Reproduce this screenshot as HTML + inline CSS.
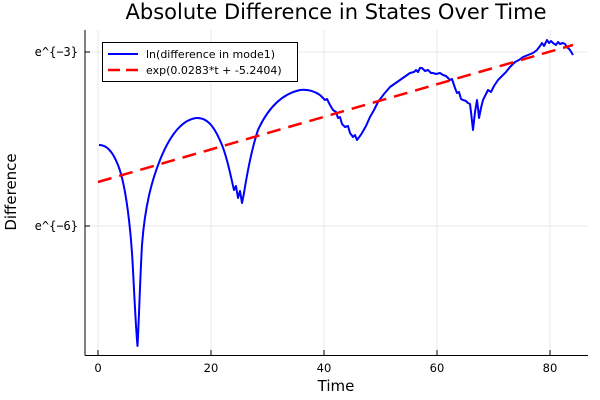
<!DOCTYPE html>
<html><head><meta charset="utf-8"><style>body{margin:0;background:#fff}svg{display:block}</style></head><body>
<svg width="600" height="400" xmlns="http://www.w3.org/2000/svg" font-family="'DejaVu Sans', 'Liberation Sans', sans-serif">
<g stroke="#e8e8e8" stroke-width="1">
<line x1="98" y1="30" x2="98" y2="355"/><line x1="211" y1="30" x2="211" y2="355"/><line x1="324" y1="30" x2="324" y2="355"/><line x1="437" y1="30" x2="437" y2="355"/><line x1="550" y1="30" x2="550" y2="355"/>
<line x1="85" y1="52" x2="588" y2="52"/><line x1="85" y1="226" x2="588" y2="226"/>
</g>
<g stroke="#000" stroke-width="1">
<line x1="85" y1="30" x2="85" y2="355.5"/><line x1="85" y1="355.5" x2="588" y2="355.5"/>
<line x1="85" y1="52" x2="90" y2="52"/><line x1="85" y1="226" x2="90" y2="226"/>
<line x1="98" y1="355" x2="98" y2="350"/><line x1="211" y1="355" x2="211" y2="350"/><line x1="324" y1="355" x2="324" y2="350"/><line x1="437" y1="355" x2="437" y2="350"/><line x1="550" y1="355" x2="550" y2="350"/>
</g>
<g font-size="11.5" fill="#000">
<text x="98" y="372" text-anchor="middle">0</text><text x="211" y="372" text-anchor="middle">20</text><text x="324" y="372" text-anchor="middle">40</text><text x="437" y="372" text-anchor="middle">60</text><text x="550" y="372" text-anchor="middle">80</text>
<text x="78" y="56" text-anchor="end" font-family="'DejaVu Sans Mono', monospace" font-size="12">e^{−3}</text>
<text x="78" y="230" text-anchor="end" font-family="'DejaVu Sans Mono', monospace" font-size="12">e^{−6}</text>
</g>
<text x="336" y="19" text-anchor="middle" font-size="21">Absolute Difference in States Over Time</text>
<text x="336" y="391" text-anchor="middle" font-size="15">Time</text>
<text transform="translate(16,192) rotate(-90)" text-anchor="middle" font-size="15">Difference</text>
<path fill="none" stroke="#0000ff" stroke-width="2" stroke-linejoin="round" d="M99,145 C106,145 112,150 118,165 C126,185 131,230 133,270 C135,310 136,330 137.5,346 C139,320 140,280 142,245 C145,205 152,180 160,160 C170,135 182,120 196,118 C208,117 215,128 222,145 C228,160 231,178 234,190 L236,186 L238,198 L240,191 L242,203 L244,193 C248,168 252,148 258,130 C268,108 282,94 300,90 C308,89 314,91 320,95"/>
<polyline fill="none" stroke="#0000ff" stroke-width="2" stroke-linejoin="round" points="320,95 322,97 325,100 327,99 330,105 333,110 336,112 338,118 340,117 342,124 345,127 348,126 350,133 353,137 355,135 357,140 360,136 362,133 366,126 370,117 374,110 378,102 384,94 390,87 400,80 410,73 414,72 416,70 418,72 420,68 422,68 425,71 428,70 431,73 433,73 436,74 440,73 443,75 446,76 450,80 452,79 455,88 457,93 459,92 461,99 463,100 466,101 468,103 470,104 471,112 473,130 475,112 477,100 478,108 479,118 481,108 483,100 485,96 488,90 491,92 494,86 498,80 502,76 506,72 510,67 515,62 519,60 523,57 528,55 533,53 537,50 540,46 542,43 544,46 547,40 549,43 551,41 553,43 556,45 558,42 560,44 563,43 565,44 567,47 570,50 573,55"/>
<line x1="98" y1="182" x2="573" y2="45" stroke="#ff0000" stroke-width="2.5" stroke-dasharray="14,8"/>
<rect x="102.5" y="42.5" width="195" height="39" fill="#fff" stroke="#000" stroke-width="1"/>
<line x1="108" y1="54" x2="138" y2="54" stroke="#0000ff" stroke-width="2"/>
<line x1="108" y1="70" x2="138" y2="70" stroke="#ff0000" stroke-width="2.5" stroke-dasharray="12,6"/>
<text x="146" y="58" font-size="11">ln(difference in mode1)</text>
<text x="146" y="74" font-size="11">exp(0.0283*t + -5.2404)</text>
</svg>
</body></html>
